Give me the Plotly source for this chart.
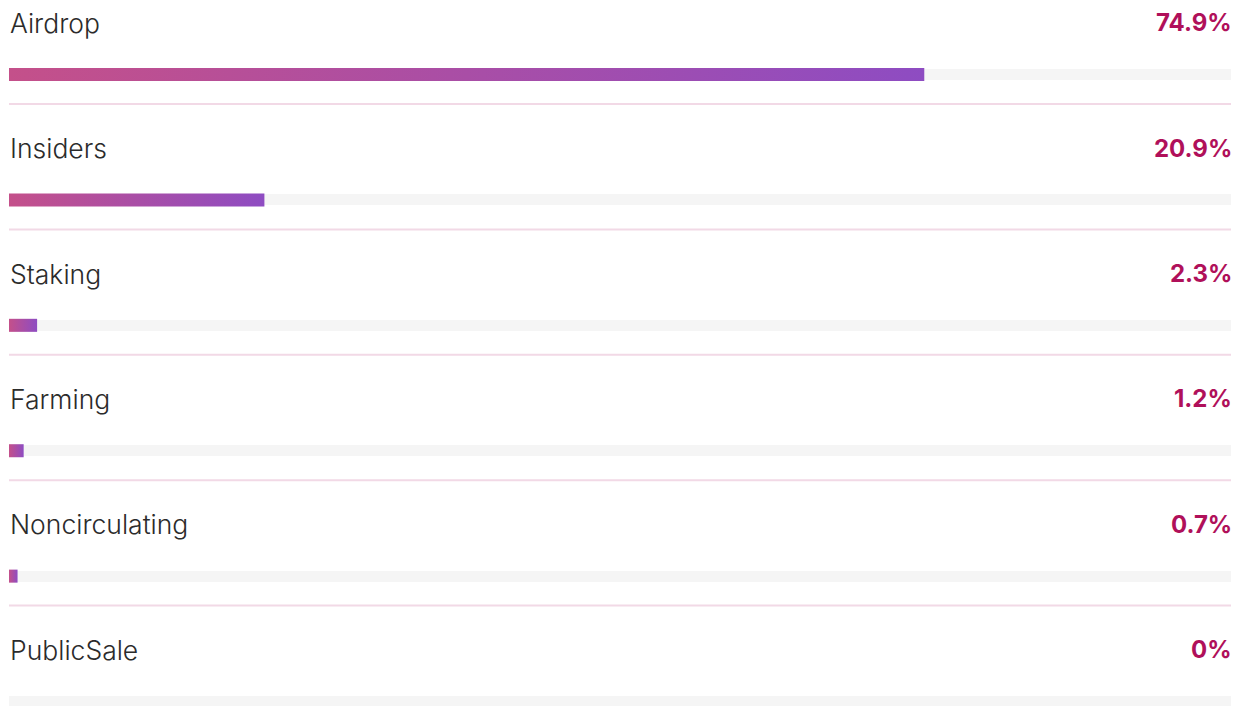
import plotly.graph_objects as go

categories = ["Airdrop", "Insiders", "Staking", "Farming", "Noncirculating", "PublicSale"]
values = [74.9, 20.9, 2.3, 1.2, 0.7, 0.0]
value_labels = ["74.9%", "20.9%", "2.3%", "1.2%", "0.7%", "0%"]

BAR_START = "#c4508a"
BAR_END = "#8e4cc2"
TRACK = "#f5f5f5"
SEP = "#f2d9e6"
PCT_COLOR = "#b0105a"
LABEL_COLOR = "#2b2b2b"

LABEL_OFF = 0.352
BAR_OFF = 0.765
BAR_HALF = 0.052
TRACK_HALF = 0.044

fig = go.Figure()

# background tracks
fig.add_trace(go.Bar(
    x=[100] * len(categories),
    y=[i + BAR_OFF for i in range(len(categories))],
    base=0,
    orientation="h",
    width=2 * TRACK_HALF,
    marker=dict(color=TRACK, line=dict(width=0)),
    hoverinfo="skip",
    showlegend=False,
))

# gradient bars
for i, (cat, v) in enumerate(zip(categories, values)):
    if v <= 0:
        continue
    yc = i + BAR_OFF
    fig.add_trace(go.Scatter(
        x=[0, v, v, 0, 0],
        y=[yc - BAR_HALF, yc - BAR_HALF, yc + BAR_HALF, yc + BAR_HALF, yc - BAR_HALF],
        mode="lines",
        line=dict(width=0),
        fill="toself",
        fillgradient=dict(type="horizontal",
                          colorscale=[[0, BAR_START], [1, BAR_END]]),
        hoverinfo="skip",
        showlegend=False,
        name=cat,
    ))

annotations = []
shapes = []
for i, (cat, lab) in enumerate(zip(categories, value_labels)):
    annotations.append(dict(
        x=0, y=i + LABEL_OFF, xref="x", yref="y", text=cat,
        xanchor="left", yanchor="middle", showarrow=False,
        borderpad=0, borderwidth=0, xshift=1,
        font=dict(family="Inter", size=26.5, color=LABEL_COLOR, weight=300),
    ))
    annotations.append(dict(
        x=100, y=i + LABEL_OFF, xref="x", yref="y", text=lab,
        xanchor="right", yanchor="middle", showarrow=False,
        borderpad=0, borderwidth=0, xshift=1,
        font=dict(family="Inter", size=24, color=PCT_COLOR, weight=700),
    ))
    if i < len(categories) - 1:
        shapes.append(dict(
            type="line", xref="x", yref="y", x0=0, x1=100,
            y0=i + 1, y1=i + 1, line=dict(color=SEP, width=2),
        ))

fig.update_layout(
    width=1236, height=706,
    margin=dict(l=9, r=5, t=0, b=0),
    paper_bgcolor="white", plot_bgcolor="white",
    xaxis=dict(range=[0, 100], visible=False, fixedrange=True),
    yaxis=dict(range=[5.8006, 0.1707], visible=False, fixedrange=True),
    annotations=annotations,
    shapes=shapes,
    bargap=0,
)

fig.write_html("out.html", config={"displayModeBar": False},
               post_script="document.body.style.margin='0';document.body.style.overflow='hidden';")
